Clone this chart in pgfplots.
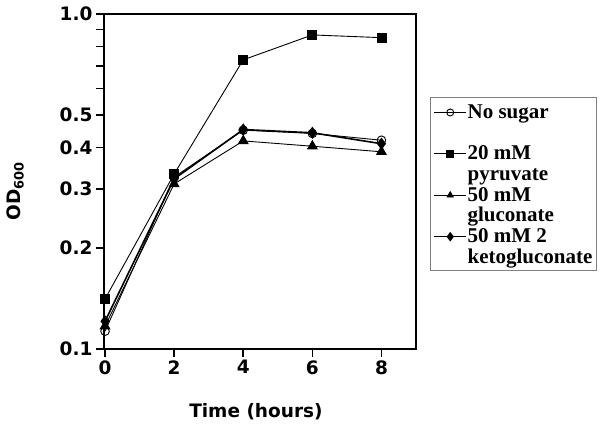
\documentclass[border=0pt]{standalone}
\usepackage{fontspec}
\setmainfont{Liberation Serif}
\newfontfamily\axfont{DejaVu Sans}
\usepackage{pgfplots}
\pgfplotsset{compat=1.18}
\begin{document}
\begin{tikzpicture}
\path[use as bounding box] (-104bp,-80bp) rectangle (496bp,349bp);
\begin{axis}[
  at={(0,0)}, anchor=south west,
  scale only axis, width=312bp, height=335bp,
  ymode=log, ymin=0.1, ymax=1.0,
  xmin=-0.03, xmax=9,
  xtick={0,2,4,6,8},
  ytick={0.1,0.2,0.3,0.4,0.5,0.6,0.7,0.8,0.9,1.0},
  yticklabels={0.1,0.2,0.3,0.4,0.5,,,,,1.0},
  minor ytick={},
  tick pos=left, tick align=outside,
  major tick length=8bp,
  axis line style={line width=2.5bp},
  every tick/.style={black, line width=1.5bp},
  ticklabel style={font=\axfont\bfseries\fontsize{18.5bp}{20bp}\selectfont},
  /pgf/number format/assume math mode=true,
  xlabel={Time (hours)}, ylabel={OD\textsubscript{600}},
  every axis x label/.style={at={(axis description cs:0.487,-0.187)}, anchor=center, font=\axfont\bfseries\fontsize{18.5bp}{20bp}\selectfont},
  every axis y label/.style={at={(axis description cs:-0.285,0.472)}, rotate=90, anchor=center, font=\axfont\bfseries\fontsize{18.5bp}{20bp}\selectfont},
  legend style={at={(axis description cs:1.045,0.752)}, anchor=north west,
    draw=gray, line width=0.8bp, inner xsep=3bp, inner ysep=2.9bp,
    font=\bfseries\fontsize{21bp}{21bp}\selectfont, row sep=-1.5bp,
    nodes={inner sep=0.6bp, text height=17.5bp, text depth=3.5bp}, cells={anchor=base west}},
  legend image code/.code={\draw[mark repeat=2, mark phase=2, mark size=3.5bp] plot coordinates {(0bp,6bp)(16bp,6bp)(32bp,6bp)};},
]
\addplot[black, line width=0.9bp, mark=o, mark size=4.3bp, mark options={fill=white, line width=0.9bp}]
  coordinates {(0,0.113) (2,0.326) (4,0.45) (6,0.44) (8,0.42)};
\addlegendentry{No sugar}
\addlegendimage{empty legend}
\addlegendentry{}
\addplot[black, line width=0.9bp, mark=square*, mark size=4.5bp]
  coordinates {(0,0.141) (2,0.333) (4,0.73) (6,0.866) (8,0.85)};
\addlegendentry{20 mM}
\addlegendimage{empty legend}
\addlegendentry{pyruvate}
\addplot[black, line width=0.9bp, mark=triangle*, mark size=5.5bp]
  coordinates {(0,0.117) (2,0.311) (4,0.418) (6,0.403) (8,0.388)};
\addlegendentry{50 mM}
\addlegendimage{empty legend}
\addlegendentry{gluconate}
\addplot[black, line width=1.6bp, mark=diamond*, mark size=4.8bp]
  coordinates {(0,0.121) (2,0.322) (4,0.452) (6,0.442) (8,0.41)};
\addlegendentry{50 mM 2}
\addlegendimage{empty legend}
\addlegendentry{ketogluconate}
\end{axis}
\end{tikzpicture}
\end{document}
